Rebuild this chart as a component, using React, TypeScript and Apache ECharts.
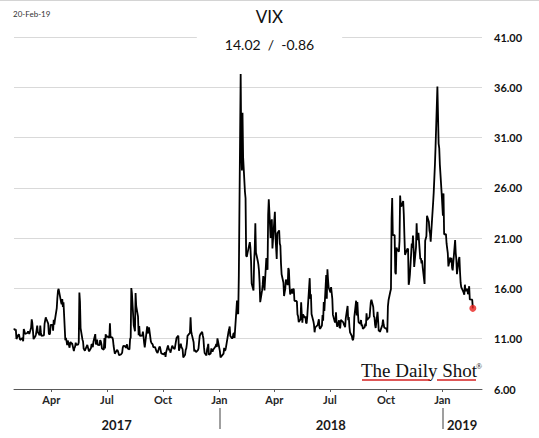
import React, { useEffect, useRef } from "react";
import * as echarts from "echarts";

// ---- Data: VIX daily closes (per month, in trading-day order) ----
const jan17 = [11.88, 11.99]; // from 30-Jan-17
const feb17 = [11.81, 11.93, 10.97, 11.37, 11.45, 11.45, 10.88, 10.85, 11.07, 10.74, 11.97, 11.76, 11.49, 11.57, 11.74, 11.71, 11.47, 12.09, 12.92];
const mar17 = [12.54, 11.81, 10.96, 11.24, 11.45, 11.86, 12.3, 11.66, 11.35, 12.3, 11.63, 11.28, 11.28, 11.34, 12.47, 12.81, 13.12, 12.96, 12.5, 11.53, 11.42, 11.54, 12.37];
const apr17 = [12.38, 11.79, 12.89, 12.39, 12.87, 14.05, 15.07, 15.77, 15.96, 14.66, 14.42, 14.93, 14.15, 14.63, 10.84, 11.07, 10.76, 10.36, 10.82];
const may17 = [10.11, 10.59, 10.68, 10.46, 10.57, 9.77, 10.11, 10.21, 10.6, 10.4, 10.42, 10.65, 15.59, 14.66, 12.04, 10.93, 10.72, 10.02, 9.99, 9.81, 10.38, 10.41];
const jun17 = [9.89, 9.75, 10.07, 10.45, 10.39, 10.16, 10.7, 11.46, 10.42, 10.64, 10.9, 10.38, 10.37, 10.86, 10.75, 10.48, 10.02, 9.9, 11.06, 10.03, 11.44, 11.18];
const jul17 = [11.22, 11.07, 12.54, 11.19, 11.11, 10.89, 10.3, 9.9, 9.51, 9.82, 9.89, 9.79, 9.58, 9.36, 9.43, 9.43, 9.6, 10.11, 10.29, 10.26];
const aug17 = [10.09, 10.28, 10.44, 10.03, 9.93, 10.96, 11.11, 16.04, 15.51, 12.33, 12.04, 11.74, 15.55, 14.26, 13.19, 11.35, 12.25, 11.28, 11.28, 11.32, 11.7, 11.22, 10.59];
const sep17 = [10.13, 12.23, 11.63, 11.55, 12.12, 10.73, 10.58, 10.5, 10.44, 10.17, 10.15, 10.18, 9.78, 9.67, 9.59, 10.21, 10.17, 9.87, 9.55, 9.51];
const oct17 = [9.45, 9.51, 9.63, 9.19, 9.65, 10.33, 10.08, 9.85, 9.91, 9.61, 10.31, 10.31, 10.07, 10.05, 9.97, 11.07, 11.16, 11.23, 11.3, 9.8, 10.5, 10.18];
const nov17 = [10.2, 9.93, 9.14, 9.4, 9.89, 10.03, 10.5, 11.29, 11.5, 11.59, 13.13, 11.76, 11.43, 10.65, 9.73, 9.88, 9.67, 9.87, 10.03, 10.7, 11.28];
const dec17 = [11.43, 11.68, 11.33, 11.02, 10.16, 9.58, 9.34, 9.92, 10.18, 10.49, 9.42, 9.53, 10.03, 10.03, 9.72, 9.9, 10.25, 10.47, 10.18, 11.04];
const jan18 = [9.77, 9.15, 9.22, 9.22, 9.52, 10.08, 9.82, 9.88, 10.16, 11.66, 11.91, 12.22, 11.27, 11.03, 11.1, 11.47, 11.58, 11.08, 13.84, 14.79, 13.54];
const feb18 = [13.47, 17.31, 37.32, 29.98, 27.73, 33.46, 29.06, 25.61, 24.97, 19.26, 19.13, 19.46, 20.6, 20.02, 18.72, 16.49, 15.8, 18.59, 19.85];
const mar18 = [22.47, 19.59, 18.73, 18.36, 17.76, 16.54, 14.64, 15.78, 16.35, 17.23, 16.59, 15.8, 19.02, 18.2, 17.86, 23.34, 24.87, 21.03, 22.5, 22.87, 19.97];
const apr18 = [23.62, 21.1, 20.06, 18.94, 21.49, 21.77, 20.47, 20.24, 18.49, 17.41, 16.56, 15.25, 15.6, 15.96, 16.88, 16.34, 18.02, 17.84, 16.24, 15.41, 15.93];
const may18 = [15.49, 15.97, 15.9, 14.77, 14.75, 14.71, 13.42, 13.23, 12.65, 12.93, 14.63, 13.42, 12.59, 13.42, 13.08, 13.22, 12.58, 12.53, 13.22, 17.02, 14.94, 15.43];
const jun18 = [13.46, 12.74, 12.4, 11.64, 12.13, 12.18, 12.35, 12.34, 12.94, 12.12, 11.98, 12.31, 13.35, 12.79, 14.64, 13.77, 17.33, 14.97, 17.91, 16.85, 16.09];
const jul18 = [15.6, 16.14, 14.97, 13.37, 12.69, 12.64, 13.63, 12.58, 12.18, 12.83, 12.06, 12.1, 12.87, 12.86, 12.62, 12.41, 12.29, 12.14, 13.03, 14.26, 12.83];
const aug18 = [13.15, 12.19, 11.64, 11.27, 10.93, 10.85, 11.27, 13.16, 14.78, 13.31, 14.64, 13.45, 12.64, 12.49, 12.86, 12.25, 12.41, 11.99, 12.16, 12.5, 12.25, 13.53, 12.86];
const sep18 = [13.16, 13.91, 14.65, 14.88, 14.16, 13.22, 13.14, 12.37, 12.07, 13.68, 12.79, 11.75, 11.8, 11.68, 12.2, 12.42, 12.89, 12.41, 12.12];
const oct18 = [12.0, 12.05, 11.61, 14.22, 14.82, 15.69, 15.95, 22.96, 24.98, 21.31, 21.3, 17.62, 17.4, 20.06, 19.89, 19.64, 20.71, 25.23, 24.22, 24.16, 24.7, 23.35, 21.23];
const nov18 = [19.34, 19.51, 19.96, 19.91, 16.36, 16.72, 17.36, 20.45, 20.02, 21.25, 19.98, 18.14, 20.1, 22.48, 20.8, 21.52, 18.9, 19.02, 18.49, 18.79, 18.07];
const dec18 = [16.44, 20.74, 21.19, 23.23, 22.64, 21.76, 21.46, 20.65, 21.63, 24.52, 25.58, 25.58, 28.38, 30.11, 36.07, 30.41, 29.96, 28.34, 25.42];
const jan19 = [23.22, 25.45, 21.38, 21.4, 20.47, 19.98, 19.5, 18.19, 19.07, 18.6, 19.04, 18.06, 17.8, 20.8, 19.52, 18.89, 17.42, 18.87, 19.13, 17.66, 16.57];
const feb19 = [16.14, 15.73, 15.57, 15.38, 16.37, 15.72, 15.97, 15.43, 15.65, 16.22, 14.91, 14.88, 14.02];

// US market holidays (calendar used to place the daily values)
const HOLIDAYS = [
  "2017-02-20", "2017-04-14", "2017-05-29", "2017-07-04", "2017-09-04", "2017-11-23", "2017-12-25",
  "2018-01-01", "2018-01-15", "2018-02-19", "2018-03-30", "2018-05-28", "2018-07-04", "2018-09-03",
  "2018-11-22", "2018-12-05", "2018-12-25", "2019-01-01", "2019-01-21", "2019-02-18",
];

// [year, month(0-based), first day, values]
const MONTH_BLOCKS: [number, number, number, number[]][] = [
  [2017, 0, 30, jan17], [2017, 1, 1, feb17], [2017, 2, 1, mar17], [2017, 3, 1, apr17],
  [2017, 4, 1, may17], [2017, 5, 1, jun17], [2017, 6, 1, jul17], [2017, 7, 1, aug17],
  [2017, 8, 1, sep17], [2017, 9, 1, oct17], [2017, 10, 1, nov17], [2017, 11, 1, dec17],
  [2018, 0, 1, jan18], [2018, 1, 1, feb18], [2018, 2, 1, mar18], [2018, 3, 1, apr18],
  [2018, 4, 1, may18], [2018, 5, 1, jun18], [2018, 6, 1, jul18], [2018, 7, 1, aug18],
  [2018, 8, 1, sep18], [2018, 9, 1, oct18], [2018, 10, 1, nov18], [2018, 11, 1, dec18],
  [2019, 0, 1, jan19], [2019, 1, 1, feb19],
];

const X_MIN = "2017-01-30";
const X_MAX = "2019-03-07";
const MONTH_TICKS = ["2017-04-01", "2017-07-01", "2017-10-01", "2018-01-01", "2018-04-01", "2018-07-01", "2018-10-01", "2019-01-01"];
const YEAR_BREAKS = ["2018-01-01", "2019-01-01"];
const YEARS = [2017, 2018, 2019];
const Y_MIN = 6;
const Y_MAX = 41;
const Y_STEP = 5;
const MONTH_NAMES = ["Jan", "Feb", "Mar", "Apr", "May", "Jun", "Jul", "Aug", "Sep", "Oct", "Nov", "Dec"];

const ts = (s: string) => Date.parse(s + "T00:00:00Z");

function buildSeries(): [number, number][] {
  const hol = new Set(HOLIDAYS);
  const out: [number, number][] = [];
  for (const [y, m, start, vals] of MONTH_BLOCKS) {
    let d = start;
    let i = 0;
    while (i < vals.length) {
      const t = Date.UTC(y, m, d);
      const dt = new Date(t);
      if (dt.getUTCMonth() !== m) break;
      const wd = dt.getUTCDay();
      const key = dt.toISOString().slice(0, 10);
      if (wd !== 0 && wd !== 6 && !hol.has(key)) {
        out.push([t, vals[i]]);
        i++;
      }
      d++;
    }
  }
  return out;
}

export default function App() {
  const ref = useRef<HTMLDivElement>(null);

  useEffect(() => {
    document.body.style.margin = "0";
    if (!ref.current) return;
    const chart = echarts.init(ref.current, null, { renderer: "svg" });

    const data = buildSeries();
    const last = data[data.length - 1];
    const prev = data[data.length - 2];
    const change = last[1] - prev[1];
    const lastDate = new Date(last[0]);
    const dateText =
      String(lastDate.getUTCDate()).padStart(2, "0") + "-" + MONTH_NAMES[lastDate.getUTCMonth()] + "-" +
      String(lastDate.getUTCFullYear()).slice(2);
    const subText = last[1].toFixed(2) + "  /  " + change.toFixed(2);

    const xMin = ts(X_MIN);
    const xMax = ts(X_MAX);
    const yearCenters = YEARS.map((y) => {
      const a = Math.max(xMin, Date.UTC(y, 0, 1));
      const b = Math.min(xMax, Date.UTC(y + 1, 0, 1));
      return (a + b) / 2;
    });

    const font = "Lato, 'Open Sans', sans-serif";

    chart.setOption({
      animation: false,
      backgroundColor: "#ffffff",
      title: [
        {
          text: "VIX",
          left: "center",
          top: 3,
          textStyle: { fontFamily: font, fontSize: 17, fontWeight: "normal", color: "#111" },
        },
        {
          text: subText,
          left: "center",
          top: 33,
          padding: [4, 28, 4, 28],
          backgroundColor: "#ffffff",
          textStyle: { fontFamily: font, fontSize: 14, fontWeight: "normal", color: "#111" },
        },
        {
          text: dateText,
          left: 13,
          top: 10,
          padding: 0,
          textStyle: { fontFamily: font, fontSize: 8, fontWeight: "normal", color: "#333" },
        },
      ],
      grid: { left: 14, right: 57, top: 37, bottom: 49 },
      xAxis: [
        {
          type: "value",
          min: xMin,
          max: xMax,
          axisLine: { show: true, lineStyle: { color: "#595959", width: 1 } },
          axisTick: {
            show: true,
            length: 3,
            customValues: MONTH_TICKS.map(ts),
            lineStyle: { color: "#595959" },
          },
          axisLabel: {
            customValues: MONTH_TICKS.map(ts),
            formatter: (v: number) => MONTH_NAMES[new Date(v).getUTCMonth()],
            margin: 5,
            fontFamily: font,
            fontSize: 11,
            fontWeight: "bold",
            color: "#262626",
            hideOverlap: false,
            showMinLabel: true,
            showMaxLabel: true,
          },
          splitLine: { show: false },
        },
        {
          type: "value",
          min: xMin,
          max: xMax,
          position: "bottom",
          offset: 19,
          axisLine: { show: false },
          axisTick: {
            show: true,
            length: 21,
            customValues: YEAR_BREAKS.map(ts),
            lineStyle: { color: "#7f7f7f", width: 1.5 },
          },
          axisLabel: {
            customValues: yearCenters,
            formatter: (v: number) => String(new Date(v).getUTCFullYear()),
            margin: 10,
            fontFamily: font,
            fontSize: 13,
            fontWeight: "bold",
            color: "#1a1a1a",
            hideOverlap: false,
          },
          splitLine: { show: false },
        },
      ],
      yAxis: {
        type: "value",
        position: "right",
        min: Y_MIN,
        max: Y_MAX,
        interval: Y_STEP,
        axisLine: { show: false },
        axisTick: { show: false },
        axisLabel: {
          formatter: (v: number) => v.toFixed(2),
          margin: 12,
          fontFamily: font,
          fontSize: 11,
          fontWeight: "bold",
          color: "#111",
        },
        splitLine: { show: true, lineStyle: { color: "#d9d9d9", width: 1 } },
      },
      series: [
        {
          type: "line",
          data,
          showSymbol: false,
          symbol: "none",
          lineStyle: { color: "#000", width: 1.8 },
          z: 3,
        },
        {
          type: "scatter",
          data: [last],
          symbolSize: 7,
          itemStyle: { color: "#e8231f" },
          z: 4,
        },
      ],
      graphic: [
        {
          type: "line",
          shape: { x1: 0, y1: 0.5, x2: 539, y2: 0.5 },
          style: { stroke: "#d4d4d4", lineWidth: 1 },
        },
        {
          type: "text",
          x: 361,
          y: 370,
          style: {
            text: "The Daily Shot",
            font: "19px 'Liberation Serif', 'DejaVu Serif', serif",
            fill: "#111",
            verticalAlign: "middle",
            align: "left",
          },
        },
        {
          type: "text",
          x: 476,
          y: 366,
          style: {
            text: "®",
            font: "8px 'Liberation Serif', serif",
            fill: "#111",
            verticalAlign: "middle",
            align: "left",
          },
        },
        {
          type: "line",
          shape: { x1: 362, y1: 380, x2: 430, y2: 380 },
          style: { stroke: "#d42020", lineWidth: 1.3 },
        },
        {
          type: "line",
          shape: { x1: 437, y1: 380, x2: 476, y2: 380 },
          style: { stroke: "#d42020", lineWidth: 1.3 },
        },
      ],
    });

    return () => chart.dispose();
  }, []);

  return (
    <div
      ref={ref}
      style={{ position: "absolute", left: 0, top: 0, width: 539, height: 438 }}
    />
  );
}
